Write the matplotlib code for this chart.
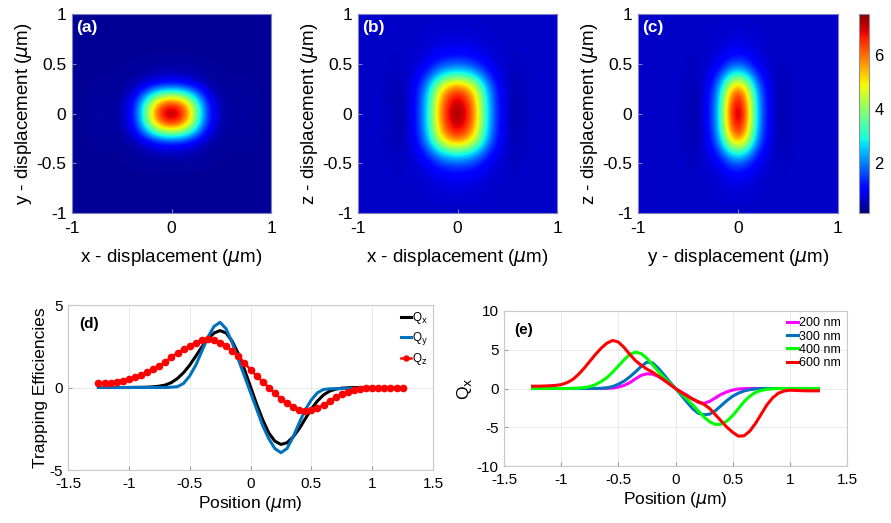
# trapping maps (a-c) and trapping efficiency curves (d, e)
import numpy as np
import matplotlib.pyplot as plt

plt.rcParams['font.family'] = ['Liberation Sans', 'DejaVu Sans']
plt.rcParams['axes.unicode_minus'] = False

# half profiles of the trapping potential, sampled at 0, 0.1, ..., 1.0 um
prof_a_x = [1, 0.93, 0.70, 0.38, 0.13, 0.04, 0.0, 0.01, 0.01, 0.0, 0.0]
prof_a_y = [1, 0.88, 0.52, 0.15, 0.04, 0.01, 0.0, 0.0, 0.0, 0.0, 0.0]
prof_b_x = [1, 0.92, 0.70, 0.36, 0.13, 0.02, -0.03, -0.01, 0.0, 0.0, 0.0]
prof_b_z = [1, 0.97, 0.90, 0.72, 0.42, 0.20, 0.09, 0.04, 0.02, 0.01, 0.0]
prof_c_y = [1, 0.75, 0.28, 0.08, -0.02, -0.02, 0.0, 0.0, 0.0, 0.0, 0.0]
prof_c_z = [1, 0.96, 0.88, 0.70, 0.42, 0.20, 0.09, 0.04, 0.02, 0.01, 0.0]
peaks = [7.4, 7.4, 7.5]
backgrounds = [0.3, 0.6, 0.6]

# line data
pos = np.round(np.linspace(-1.25, 1.25, 51), 2)
Qx = [0, 0, 0, 0, 0, 0,
      0.01, 0.01, 0.02, 0.04, 0.08, 0.15, 0.30, 0.55, 0.90, 1.35, 1.90, 2.45,
      2.95, 3.30, 3.45, 3.30, 2.80, 2.05, 1.10, 0.05, -1.00, -1.95, -2.75,
      -3.25, -3.45, -3.35, -3.00, -2.50, -1.90, -1.30, -0.82, -0.45, -0.22,
      -0.10, -0.04, -0.02,
      0, 0, 0, 0, 0, 0, 0, 0, 0]
Qy = [0, 0, 0, 0, 0, 0, 0, 0, 0, 0, 0, 0,
      0.02, 0.05, 0.25, 0.70, 1.35, 2.20, 3.05, 3.70, 3.95, 3.55, 2.70, 1.70,
      0.70, -0.30, -1.30, -2.30, -3.10, -3.70, -3.95, -3.70, -3.00, -2.15,
      -1.35, -0.75, -0.32, -0.12, -0.08, -0.07, -0.07, -0.06, -0.05, -0.04,
      -0.03, -0.02,
      0, 0, 0, 0, 0]
Qz = [0.26, 0.28, 0.30, 0.35, 0.42, 0.50, 0.62, 0.76, 0.92, 1.10, 1.32, 1.55,
      1.85, 2.10, 2.32, 2.52, 2.72, 2.85, 2.92, 2.88, 2.72, 2.50, 2.22, 1.88,
      1.50, 1.07, 0.70, 0.35, 0.00, -0.35, -0.68, -0.95, -1.18, -1.35, -1.42,
      -1.38, -1.25, -1.05, -0.82, -0.60, -0.42, -0.28, -0.18, -0.10, -0.05,
      -0.02, 0.0, 0.0, 0.0, 0.0, 0.0]

sizes = ['200 nm', '300 nm', '400 nm', '600 nm']
Qx_200 = [0] * 13 + [
    0.02, 0.06, 0.18, 0.40, 0.75, 1.25, 1.70, 1.90, 1.85, 1.55, 1.05, 0.55,
    0.0, -0.45, -0.86, -1.40, -1.80, -1.92, -1.65, -1.20, -0.75, -0.43,
    -0.20, -0.06, -0.02] + [0] * 13
Qx_300 = [0] * 11 + [
    0.01, 0.03, 0.10, 0.25, 0.55, 0.95, 1.50, 2.15, 2.85, 3.40, 3.30, 2.60,
    1.75, 0.85, 0.0, -0.85, -1.75, -2.60, -3.20, -3.40, -3.30, -2.85, -2.20,
    -1.55, -1.00, -0.60, -0.32, -0.15, -0.06, -0.02] + [0] * 10
Qx_400 = [0] * 7 + [
    0.02, 0.05, 0.12, 0.25, 0.50, 0.90, 1.40, 2.10, 2.90, 3.70, 4.40, 4.70,
    4.50, 3.90, 3.05, 2.20, 1.40, 0.70, 0.0, -0.65, -1.35, -2.10, -2.90,
    -3.70, -4.30, -4.65, -4.60, -4.20, -3.50, -2.60, -1.70, -1.00, -0.50,
    -0.25, -0.10, -0.04, -0.01] + [0] * 7
Qx_600 = [0.30, 0.30, 0.32, 0.35, 0.40, 0.50, 0.75, 1.15, 1.80, 2.60, 3.50,
          4.40, 5.20, 5.85, 6.20, 6.00, 5.30, 4.40, 3.60, 3.00, 2.50, 2.10,
          1.60, 1.10, 0.55, 0.00, -0.50, -0.95, -1.35, -1.70, -2.05, -2.60,
          -3.40, -4.20, -5.00, -5.65, -6.15, -6.10, -5.50, -4.50, -3.30,
          -2.10, -1.20, -0.60, -0.32, -0.22, -0.25, -0.28, -0.30, -0.30, -0.30]


def mirror(half):
    half = np.asarray(half, dtype=float)
    return np.concatenate([half[:0:-1], half])


fig = plt.figure(figsize=(8.91, 5.23), dpi=100)
W, H = 891, 523


def box(l, t, r, b):
    return [l / W, 1 - b / H, (r - l) / W, (b - t) / H]


maps = [(prof_a_x, prof_a_y), (prof_b_x, prof_b_z), (prof_c_y, prof_c_z)]
boxes = [box(72, 14, 271, 213), box(358, 14, 557, 213), box(638, 14, 838, 213)]
xlabels = ['x - displacement ($\\mu$m)', 'x - displacement ($\\mu$m)',
           'y - displacement ($\\mu$m)']
ylabels = ['y - displacement ($\\mu$m)', 'z - displacement ($\\mu$m)',
           'z - displacement ($\\mu$m)']
tags = ['(a)', '(b)', '(c)']

for i in range(3):
    ax = fig.add_axes(boxes[i])
    px, py = maps[i]
    Z = backgrounds[i] + (peaks[i] - backgrounds[i]) * np.outer(mirror(py), mirror(px))
    im = ax.imshow(Z, extent=[-1, 1, -1, 1], origin='lower', cmap='jet',
                   vmin=0.13, vmax=7.5, interpolation='bicubic', aspect='auto')
    ax.set_xticks([-1, 0, 1])
    ax.set_xticklabels(['-1', '0', '1'])
    ax.set_yticks([-1, -0.5, 0, 0.5, 1])
    ax.set_yticklabels(['-1', '-0.5', '0', '0.5', '1'])
    ax.tick_params(labelsize=12.5, direction='in', length=3, color='#8080c0')
    ax.tick_params(axis='x', pad=6)
    ax.tick_params(axis='y', pad=4)
    ax.set_xlabel(xlabels[i], fontsize=13.5, labelpad=8)
    ax.set_ylabel(ylabels[i], fontsize=13.5, labelpad=2)
    for s in ax.spines.values():
        s.set_color('#8080c0')
        s.set_linewidth(0.8)
    ax.text(0.02, 0.97, tags[i], transform=ax.transAxes, color='white',
            fontsize=12.5, fontweight='bold', va='top', ha='left')

cax = fig.add_axes(box(859, 14, 869, 213))
cb = fig.colorbar(im, cax=cax, ticks=[2, 4, 6])
cb.ax.tick_params(labelsize=12, length=0, pad=4)
cb.outline.set_edgecolor('#909090')
cb.outline.set_linewidth(0.8)

# (d) trapping efficiencies
axd = fig.add_axes(box(68, 305, 433, 470))
axd.plot(pos, Qx, color='black', lw=2.2, label='Q$_{\\rm x}$')
axd.plot(pos, Qy, color=(0, 0.447, 0.741), lw=2.2, label='Q$_{\\rm y}$')
axd.plot(pos, Qz, color='red', lw=1.8, marker='o', markersize=4.5,
         label='Q$_{\\rm z}$')
axd.set_xlim(-1.5, 1.5)
axd.set_ylim(-5, 5)
axd.set_yticks([-5, 0, 5])
axd.set_ylabel('Trapping Efficiencies', fontsize=12.5, labelpad=1)
axd.text(0.03, 0.93, '(d)', transform=axd.transAxes, fontsize=11,
         fontweight='bold', va='top')
axd.legend(loc='upper right', frameon=False, fontsize=8.5, handlelength=0.9,
           handletextpad=0.1, labelspacing=0.35, borderaxespad=0.2,
           borderpad=0.2, markerscale=0.8)

# (e) size dependence of Qx
axe = fig.add_axes(box(504, 311, 847, 466))
colors = [(1, 0, 1), (0, 0.447, 0.741), (0, 1, 0), (1, 0, 0)]
for vals, c, lab in zip([Qx_200, Qx_300, Qx_400, Qx_600], colors, sizes):
    axe.plot(pos, vals, color=c, lw=2.2, label=lab)
axe.set_xlim(-1.5, 1.5)
axe.set_ylim(-10, 10)
axe.set_yticks([-10, -5, 0, 5, 10])
axe.set_ylabel('Q$_{\\rm x}$', fontsize=12.5, labelpad=2)
axe.text(0.03, 0.92, '(e)', transform=axe.transAxes, fontsize=11,
         fontweight='bold', va='top')
axe.legend(loc='upper right', frameon=False, fontsize=9, handlelength=0.9,
           handletextpad=0.1, labelspacing=0.1, borderaxespad=0.2,
           borderpad=0.3)

for ax in (axd, axe):
    ax.set_xticks([-1.5, -1, -0.5, 0, 0.5, 1, 1.5])
    ax.set_xticklabels(['-1.5', '-1', '-0.5', '0', '0.5', '1', '1.5'])
    ax.set_xlabel('Position ($\\mu$m)', fontsize=12.5, labelpad=2)
    ax.grid(True, color='#e6e6e6', lw=0.6)
    ax.set_axisbelow(True)
    ax.tick_params(labelsize=11, direction='in', length=3, color='#999999')
    ax.tick_params(axis='x', pad=5)
    ax.tick_params(axis='y', pad=4)
    for s in ax.spines.values():
        s.set_color('#c8c8c8')
        s.set_linewidth(0.8)

fig.savefig('out.png', dpi=100)
